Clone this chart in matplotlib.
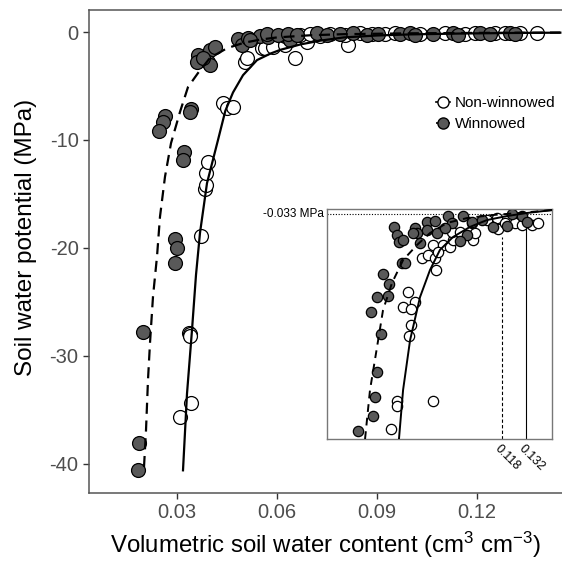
import numpy as np
import matplotlib
matplotlib.use("Agg")
import matplotlib.pyplot as plt
from matplotlib.lines import Line2D

plt.rcParams['font.family'] = ['Liberation Sans', 'DejaVu Sans']
plt.rcParams['mathtext.fontset'] = 'custom'
plt.rcParams['mathtext.rm'] = 'Liberation Sans'
plt.rcParams['mathtext.it'] = 'Liberation Sans'
plt.rcParams['axes.unicode_minus'] = False

# ---- main panel data (theta, MPa) ----
win_x = [0.0183, 0.0186, 0.0198, 0.0294, 0.0300, 0.0294, 0.0321, 0.0318, 0.0264, 0.0258,
         0.0246, 0.0342, 0.0339, 0.0363, 0.0360, 0.0399, 0.0414, 0.0393, 0.0399, 0.0378,
         0.0483, 0.0495, 0.0513, 0.0549, 0.0573, 0.0519, 0.0624, 0.0639,
         0.0570, 0.0603, 0.0633, 0.0660, 0.0720, 0.0750, 0.0789, 0.0828, 0.0870, 0.0903,
         0.0969, 0.0999, 0.1014, 0.1068, 0.1128, 0.1143, 0.1209, 0.1239, 0.1299, 0.1314]
win_y = [-40.6, -38.1, -27.8, -19.2, -20.0, -21.4, -11.1, -11.9, -7.8, -8.3,
         -9.2, -7.1, -7.4, -2.1, -2.8, -1.7, -1.4, -2.8, -3.1, -2.4,
         -0.6, -1.2, -0.55, -0.4, -0.45, -0.74, -0.37, -0.74,
         -0.2, -0.3, -0.15, -0.25, -0.1, -0.3, -0.2, -0.1, -0.25, -0.15,
         -0.2, -0.1, -0.3, -0.15, -0.1, -0.25, -0.1, -0.2, -0.1, -0.15]

non_x = [0.0309, 0.0342, 0.0336, 0.0339, 0.0339, 0.0372, 0.0384, 0.0387, 0.0387, 0.0393,
         0.0438, 0.0450, 0.0468, 0.0504, 0.0510, 0.0555, 0.0564, 0.0588, 0.0624, 0.0654,
         0.0690, 0.0813,
         0.0669, 0.0699, 0.0729, 0.0759, 0.0804, 0.0849, 0.0885, 0.0924, 0.0954, 0.1029,
         0.1104, 0.1164, 0.1194, 0.1254, 0.1284, 0.1329, 0.1380]
non_y = [-35.7, -34.4, -27.9, -28.0, -28.2, -18.9, -14.5, -14.2, -13.1, -12.0,
         -6.6, -7.0, -6.9, -2.8, -2.4, -1.5, -1.5, -1.4, -1.2, -2.4,
         -0.9, -1.2,
         -0.3, -0.2, -0.4, -0.15, -0.25, -0.1, -0.2, -0.15, -0.1, -0.2,
         -0.1, -0.15, -0.05, -0.1, -0.05, -0.1, -0.05]

# fitted curves
fit_non_x = [0.0318, 0.0330, 0.0345, 0.0357, 0.0369, 0.0390, 0.0423, 0.0445, 0.0468, 0.0498,
             0.0540, 0.0580, 0.0610, 0.0670, 0.0730, 0.0800, 0.0900, 0.1000, 0.1150, 0.1300, 0.1450]
fit_non_y = [-40.6, -33.5, -27.6, -22.5, -18.6, -14.0, -10.0, -7.3, -5.6, -4.0,
             -2.6, -2.0, -1.65, -1.15, -0.8, -0.5, -0.32, -0.22, -0.14, -0.09, -0.06]
fit_win_x = [0.0201, 0.0207, 0.0213, 0.0219, 0.0228, 0.0240, 0.0249, 0.0264, 0.0282, 0.0309,
             0.0333, 0.0363, 0.0399, 0.0450, 0.0500, 0.0550, 0.0600, 0.0700, 0.0800, 0.1000,
             0.1200, 0.1450]
fit_win_y = [-40.3, -36.9, -32.2, -28.8, -24.5, -20.8, -17.1, -13.4, -10.3, -7.4,
             -5.1, -3.8, -2.4, -1.5, -1.0, -0.7, -0.5, -0.3, -0.2, -0.12,
             -0.08, -0.05]

# ---- inset data ----
in_win_x = [0.0550, 0.0568, 0.0579, 0.0603, 0.0597, 0.0614, 0.0486, 0.0521, 0.0515, 0.0451,
            0.0416, 0.0474, 0.0451, 0.0439, 0.0428, 0.0340,
            0.0673, 0.0684, 0.0702, 0.0661, 0.0743, 0.0789, 0.0801, 0.0865, 0.0888, 0.0953,
            0.0976, 0.0935, 0.1005, 0.1063, 0.1128, 0.1209, 0.1238, 0.1297, 0.1326, 0.0743, 0.0848]
in_win_y = [-0.117, -0.170, -0.215, -0.202, -0.352, -0.352, -0.424, -0.489, -0.567, -0.574,
            -0.672, -0.815, -1.063, -1.226, -1.350, -1.448,
            -0.124, -0.157, -0.222, -0.157, -0.085, -0.078, -0.157, -0.046, -0.091, -0.046,
            -0.170, -0.209, -0.085, -0.072, -0.117, -0.111, -0.033, -0.046, -0.085, -0.137, -0.124]
in_non_x = [0.0713, 0.0748, 0.0789, 0.0795, 0.0778, 0.0836, 0.0877, 0.0807, 0.0894, 0.0888,
            0.0935, 0.1011, 0.1023, 0.1005, 0.1093, 0.1151, 0.1157, 0.1198, 0.1256, 0.1297,
            0.1355, 0.1390, 0.0632, 0.0673, 0.0603, 0.0650, 0.0650, 0.0638, 0.0568, 0.0568,
            0.0778, 0.0533]
in_non_y = [-0.320, -0.300, -0.320, -0.398, -0.235, -0.235, -0.248, -0.280, -0.202, -0.150,
            -0.150, -0.202, -0.157, -0.091, -0.072, -0.059, -0.130, -0.091, -0.091, -0.104,
            -0.104, -0.091, -0.541, -0.607, -0.639, -0.652, -0.757, -0.828, -1.252, -1.285,
            -1.252, -1.435]
in_fit_non_x = [0.0579, 0.0603, 0.0644, 0.0702, 0.0760, 0.0818, 0.0894, 0.0993, 0.1093, 0.1209, 0.1326, 0.1472]
in_fit_non_y = [-1.500, -1.180, -0.854, -0.574, -0.398, -0.267, -0.183, -0.117, -0.072, -0.046, -0.026, -0.007]
in_fit_win_x = [0.0381, 0.0410, 0.0451, 0.0486, 0.0538, 0.0603, 0.0684, 0.0760, 0.0859, 0.0976, 0.1128, 0.1285, 0.1472]
in_fit_win_y = [-1.500, -1.180, -0.900, -0.659, -0.483, -0.333, -0.235, -0.157, -0.091, -0.059, -0.039, -0.026, -0.007]
fc_win, fc_non = 0.118, 0.132
fc_win_top, fc_non_top = -0.183, -0.072
fc_psi = -0.033

gray = '#595959'
W, H = 562, 561
fig = plt.figure(figsize=(W / 100, H / 100), dpi=100)
ax = fig.add_axes([89 / W, 1 - 493 / H, (562 - 89) / W, (493 - 10) / H])

ax.plot(fit_win_x, fit_win_y, color='black', lw=1.6, ls=(0, (5, 3)), zorder=3)
ax.plot(fit_non_x, fit_non_y, color='black', lw=1.6, zorder=3)
ax.scatter(non_x, non_y, s=100, facecolor='white', edgecolor='black', lw=0.9, zorder=2)
ax.scatter(win_x, win_y, s=100, facecolor=gray, edgecolor='black', lw=0.9, zorder=2)

ax.set_xlim(0.0036, 0.1455)
ax.set_ylim(-42.7, 2.04)
ax.set_xticks([0.03, 0.06, 0.09, 0.12])
ax.set_xticklabels(['0.03', '0.06', '0.09', '0.12'])
ax.set_yticks([0, -10, -20, -30, -40])
ax.set_yticklabels(['0', '-10', '-20', '-30', '-40'])
ax.tick_params(labelsize=14.5, labelcolor='#4D4D4D', color='#333333', length=4, width=1)
for s in ax.spines.values():
    s.set_color('#555555')
    s.set_linewidth(1.1)
ax.spines['right'].set_visible(False)
ax.set_xlabel('Volumetric soil water content (cm$^{3}$ cm$^{-3}$)', fontsize=17.3, labelpad=5)
ax.set_ylabel('Soil water potential (MPa)', fontsize=17.5)
ax.yaxis.set_label_coords(-0.11, 0.53)

handles = [Line2D([0], [0], color='black', lw=1.2, ls='-', marker='o', markersize=8,
                  markerfacecolor='white', markeredgecolor='black'),
           Line2D([0], [0], color='black', lw=1.2, ls='--', marker='o', markersize=8,
                  markerfacecolor=gray, markeredgecolor='black')]
ax.legend(handles, ['Non-winnowed', 'Winnowed'], loc='upper right', bbox_to_anchor=(1.015, 0.85),
          frameon=False, fontsize=11, handlelength=0.9, handletextpad=0.3, labelspacing=0.45)

# inset
ins = fig.add_axes([327 / W, 1 - 439 / H, (552 - 327) / W, (439 - 209) / H])
ins.axhline(fc_psi, color='black', lw=0.8, ls=(0, (1, 1.5)), zorder=1)
ins.plot([fc_win, fc_win], [-1.5, fc_win_top], color='black', lw=0.8, ls=(0, (3, 2)), zorder=1)
ins.plot([fc_non, fc_non], [-1.5, fc_non_top], color='black', lw=0.8, zorder=1)
ins.scatter(in_non_x, in_non_y, s=55, facecolor='white', edgecolor='black', lw=0.9, zorder=2)
ins.scatter(in_win_x, in_win_y, s=55, facecolor=gray, edgecolor='black', lw=0.9, zorder=2)
ins.plot(in_fit_win_x, in_fit_win_y, color='black', lw=1.4, ls=(0, (4, 3)), zorder=3)
ins.plot(in_fit_non_x, in_fit_non_y, color='black', lw=1.4, zorder=3)
ins.set_xlim(0.0159, 0.1472)
ins.set_ylim(-1.5, 0.0)
ins.set_xticks([])
ins.set_yticks([])
for s in ins.spines.values():
    s.set_color('#777777')
    s.set_linewidth(1.0)
ins.text(-0.015, fc_psi, '-0.033 MPa', transform=ins.get_yaxis_transform(), ha='right', va='center',
         fontsize=8.5, color='black')
for v, lab in [(fc_win, '0.118'), (fc_non, '0.132')]:
    ins.annotate(lab, xy=(v, -1.5), xycoords='data', xytext=(-4, -6), textcoords='offset points',
                 rotation=-45, rotation_mode='anchor', ha='left', va='center', fontsize=9)

fig.savefig('out.png', dpi=100)
